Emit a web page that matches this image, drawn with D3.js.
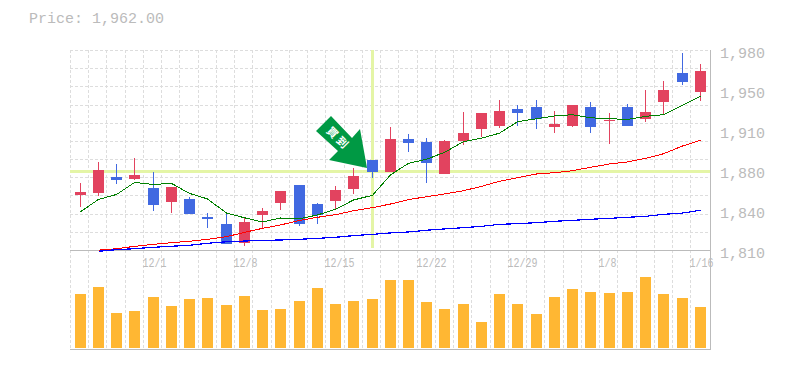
<!DOCTYPE html>
<html>
<head>
<meta charset="utf-8">
<script src="https://cdn.jsdelivr.net/npm/d3@7"></script>
<style>
html,body{margin:0;padding:0;background:#fff;}
svg{display:block;}
text{font-family:"Liberation Mono","DejaVu Sans Mono",monospace;fill:#bbb;}
</style>
</head>
<body>
<div class="container"></div>
<script>
var days=d3.range(35)
var tickLabels=[[4,'12/1'],[9,'12/8'],[14,'12/15'],[19,'12/22'],[24,'12/29'],[29,'1/8'],[34,'1/16']]
var priceTicks=[1810,1844,1878,1912,1946,1980]

var open=[1856.75,1858.45,1872.05,1870.35,1862.7,1850.8,1853.35,1838.05,1832.1,1816,1839.75,1850,1865.25,1849.1,1851.65,1861.85,1886.5,1876.3,1904.35,1901.8,1874.6,1902.65,1912.85,1915.4,1929.85,1931.55,1914.55,1915.4,1931.55,1919.65,1931.55,1921.35,1935.8,1960.45,1944.3]
var close=[1859.3,1878,1869.5,1873.75,1848.25,1863.55,1840.6,1836.35,1815.1,1833.8,1843.15,1860.15,1832.1,1839.75,1861,1872.9,1876.3,1904.35,1900.95,1884,1902.65,1909.45,1926.45,1928.15,1926.45,1921.35,1917.1,1933.25,1914.55,1920.5,1915.4,1927.3,1946,1952.8,1962.15]
var high=[1866.95,1884.8,1883.1,1888.2,1876.3,1863.55,1855.05,1841.45,1841.45,1837.2,1845.7,1860.15,1865.25,1850,1864.4,1879.7,1886.5,1914.55,1908.6,1905.2,1903.5,1927.3,1926.45,1937.5,1933.25,1937.5,1928.15,1933.25,1935.8,1926.45,1934.1,1946,1953.65,1977.45,1968.1]
var low=[1846.55,1855.9,1866.1,1869.5,1843.15,1841.45,1840.6,1828.7,1815.1,1813.4,1828.7,1844,1830.4,1832.1,1844.85,1857.6,1871.2,1876.3,1893.3,1867,1874.6,1899.25,1906,1913.7,1915.4,1912.85,1909.45,1914.55,1909.45,1900.1,1915.4,1918.8,1925.6,1950.25,1936.65]

var ma5=[1842.5,1853,1857.2,1867.4,1865.7,1866.6,1858.1,1853.4,1841.4,1837.4,1833.8,1837.2,1836.5,1839.8,1844.6,1852.5,1856.5,1873.8,1883.7,1887.1,1893,1902.1,1905,1909.3,1919,1921.6,1923.9,1925,1922.4,1921.6,1921,1923.6,1925,1933,1940.6]
var ma25=[null,1809.9,1811.1,1813.1,1814.8,1816.2,1817.4,1819.1,1821.3,1825,1828.4,1831.3,1835.1,1837.8,1840,1843.4,1846,1849.1,1852.8,1855.3,1857.6,1860.4,1864.1,1868.4,1871.4,1874.6,1875.7,1877.4,1880.3,1883.1,1884.8,1887.9,1891.8,1898.4,1903.2]
var ma75=[null,1808.9,1810.3,1811.1,1812.3,1813.2,1814,1815.7,1817,1817.6,1818.2,1818.5,1819.1,1819.9,1820.8,1822.2,1823.3,1824.5,1825.3,1826.8,1827.9,1829,1830.1,1831.8,1832.4,1833.2,1834.4,1835.2,1836.1,1836.9,1837.8,1838.6,1840.3,1841.4,1843.8]
var volume=[54,61,35,37,51,42,49,50,43,52,38,39,47,60,44,47,49,68,68,46,39,44,26,54,44,34,51,59,56,55,56,71,54,50,41]
var lastPrice=1962

var svg_width=785
var svg_height=370
var red='#e2435f'
var blue='#4169e1'
var grid='#ddd'
var edge='#bbb'
var cross='#e4f5a6'

var x_scale=d3.scaleBand().domain(days).range([71,709.5])
var y_scale=d3.scaleLinear().domain([1810,1980]).range([250,50])
var vol_scale=d3.scaleLinear().domain([0,98]).range([348,250])
var center=function(i){return Math.round(x_scale(i)+x_scale.bandwidth()/2-.5)+.5}
var gridX=function(i){return Math.round(x_scale(i)-1)+.5}

var svg=d3.select('.container')
.append('svg')
.attr('width',svg_width)
.attr('height',svg_height)

// dashed grid
var hLines=d3.range(12).map(function(k){return 1810+k*170/11})
svg.selectAll('.hgrid')
.data(hLines.slice(1))
.enter()
.append('line')
.attr('x1',70).attr('x2',710)
.attr('y1',function(d){return Math.round(y_scale(d))+.5})
.attr('y2',function(d){return Math.round(y_scale(d))+.5})
.attr('stroke',grid)
.attr('stroke-dasharray','3,2')

svg.selectAll('.vgrid')
.data(days)
.enter()
.append('line')
.attr('x1',gridX).attr('x2',gridX)
.attr('y1',50).attr('y2',350)
.attr('stroke',grid)
.attr('stroke-dasharray','3,2')

// crosshair on the signal day
svg.append('line')
.attr('x1',70).attr('x2',710)
.attr('y1',y_scale(close[16])-.5).attr('y2',y_scale(close[16])-.5)
.attr('stroke',cross).attr('stroke-width',3)
svg.append('line')
.attr('x1',center(16)).attr('x2',center(16))
.attr('y1',50).attr('y2',248)
.attr('stroke',cross).attr('stroke-width',3)

// frame
svg.append('line').attr('x1',70).attr('x2',710).attr('y1',250.5).attr('y2',250.5).attr('stroke',edge)
svg.append('line').attr('x1',70).attr('x2',710).attr('y1',349.5).attr('y2',349.5).attr('stroke',edge)
svg.append('line').attr('x1',710.5).attr('x2',710.5).attr('y1',50).attr('y2',350).attr('stroke',edge)

// volume
svg.selectAll('.vol')
.data(days)
.enter()
.append('rect')
.attr('x',function(d){return center(d)-5.5})
.attr('width',11)
.attr('y',function(d){return vol_scale(volume[d])})
.attr('height',function(d){return 348-vol_scale(volume[d])})
.attr('shape-rendering','crispEdges')
.style('fill','#ffb733')

// candles
var g=svg.selectAll('.candle')
.data(days)
.enter()
.append('g')
.attr('shape-rendering','crispEdges')
.attr('fill',function(d){return close[d]>=open[d]?red:blue})
.attr('stroke',function(d){return close[d]>=open[d]?red:blue})

g.append('line')
.attr('x1',center).attr('x2',center)
.attr('y1',function(d){return y_scale(high[d])})
.attr('y2',function(d){return y_scale(low[d])})

g.append('rect')
.attr('stroke','none')
.attr('x',function(d){return center(d)-5.5})
.attr('width',11)
.attr('y',function(d){return y_scale(Math.max(open[d],close[d]))})
.attr('height',function(d){return Math.max(1,Math.abs(y_scale(open[d])-y_scale(close[d])))})

// moving averages, stepped like the original bitmap
var line=d3.line()
.defined(function(d){return d!=null})
.x(function(d,i){return center(i)})
.y(function(d){return y_scale(d)})

var maLines=[[ma5,'#008000',1],[ma25,'#ff0000',1],[ma75,'#0000ff',1.2]]
maLines.forEach(function(m){
    svg.append('path')
    .attr('d',line(m[0]))
    .attr('fill','none')
    .attr('stroke',m[1])
    .attr('stroke-width',m[2])
    .attr('shape-rendering','crispEdges')
})

// signal arrow
svg.append('path')
.attr('d','M316,131 L331,116 L352,138 L360,129 L367,168 L329,160 L338,151 Z')
.attr('fill','#009944')
svg.append('text')
.text('買到')
.attr('transform','translate(338.5,138.5) rotate(45)')
.attr('y',4)
.attr('text-anchor','middle')
.style('font-family','"Noto Sans CJK JP"')
.style('font-weight','bold')
.style('font-size','11px')
.style('letter-spacing','3px')
.style('fill','#fff')

// axes text
svg.selectAll('.ptick')
.data(priceTicks)
.enter()
.append('text')
.text(function(d){return d3.format(',')(Math.round(d/10)*10)})
.attr('x',720)
.attr('y',function(d){return y_scale(d)+8})
.style('font-size','15px')

svg.selectAll('.dtick')
.data(tickLabels)
.enter()
.append('text')
.text(function(d){return d[1]})
.attr('x',function(d){return gridX(d[0])-1})
.attr('y',267)
.attr('textLength',function(d){return d[1].length*6})
.attr('lengthAdjust','spacingAndGlyphs')
.style('font-size','13px')

svg.append('text')
.text('Price: '+d3.format(',.2f')(lastPrice))
.attr('x',29)
.attr('y',23)
.style('font-size','15px')
</script>
</body>
</html>
